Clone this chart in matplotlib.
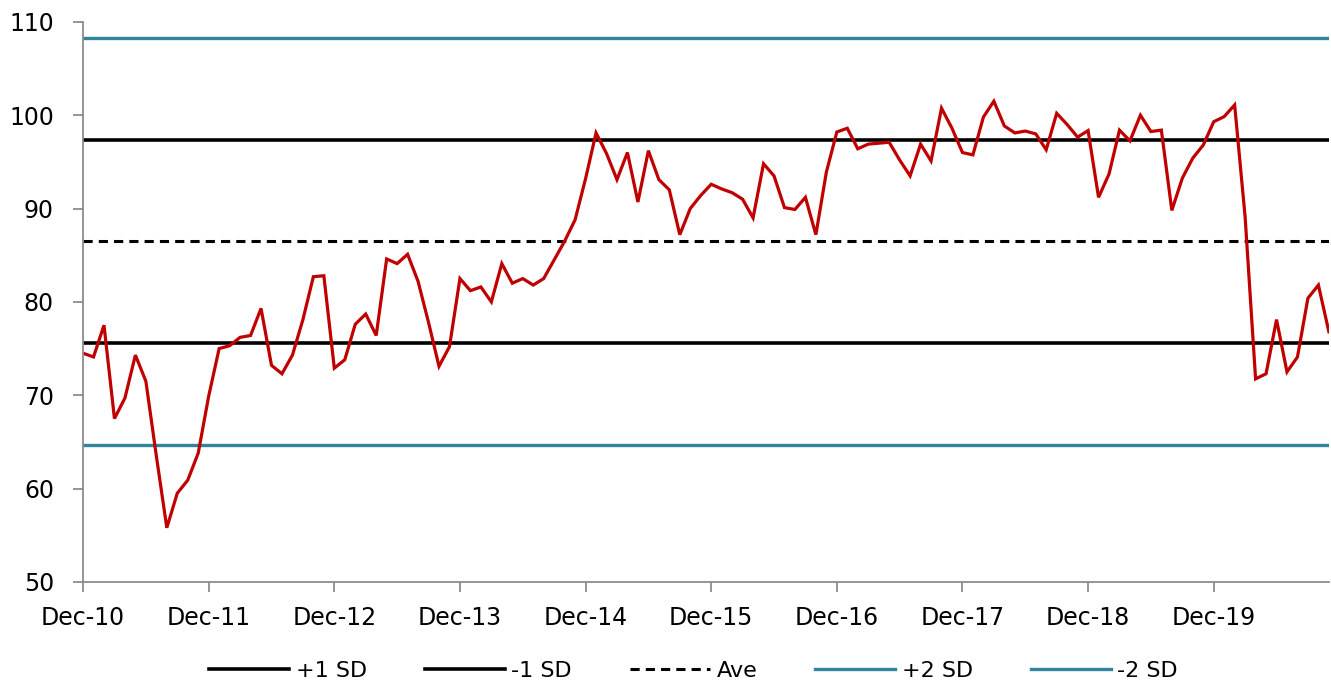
import numpy as np
import matplotlib
matplotlib.use("Agg")
import matplotlib.pyplot as plt

plt.rcParams["font.family"] = "DejaVu Sans"

# monthly series, Dec-10 .. Nov-20
values = [
    74.5,
    74.1, 77.5, 67.5, 69.7, 74.3, 71.5, 63.5, 55.8, 59.5, 60.9, 63.8, 69.9,
    75.0, 75.3, 76.2, 76.4, 79.3, 73.2, 72.3, 74.3, 78.1, 82.7, 82.8, 72.9,
    73.8, 77.6, 78.7, 76.4, 84.6, 84.1, 85.1, 82.2, 77.8, 73.1, 75.2, 82.5,
    81.2, 81.6, 80.0, 84.1, 82.0, 82.5, 81.8, 82.5, 84.5, 86.5, 88.8, 93.2,
    98.1, 95.9, 93.1, 96.0, 90.7, 96.2, 93.1, 92.0, 87.2, 90.0, 91.4, 92.6,
    92.1, 91.7, 91.0, 89.0, 94.8, 93.5, 90.1, 89.9, 91.2, 87.2, 93.9, 98.2,
    98.6, 96.4, 96.9, 97.0, 97.1, 95.2, 93.5, 96.9, 95.1, 100.75, 98.6, 96.0,
    95.75, 99.8, 101.5, 98.85, 98.1, 98.3, 98.0, 96.3, 100.2, 99.0, 97.65, 98.35,
    91.2, 93.7, 98.4, 97.25, 100.0, 98.25, 98.4, 89.8, 93.25, 95.4, 96.8, 99.3,
    99.85, 101.1, 89.1, 71.75, 72.3, 78.1, 72.5, 74.1, 80.4, 81.8, 76.8,
]
tick_labels = ["Dec-10", "Dec-11", "Dec-12", "Dec-13", "Dec-14",
               "Dec-15", "Dec-16", "Dec-17", "Dec-18", "Dec-19"]
plus1_sd = 97.35
minus1_sd = 75.6
average = 86.5
plus2_sd = 108.3
minus2_sd = 64.7

RED = "#C00000"
TEAL = "#31849B"
GRAY = "#8C8C8C"

x = np.arange(len(values))
fig = plt.figure(figsize=(13.31, 6.83), dpi=100)
ax = fig.add_axes([0.0624, 0.148, 0.936, 0.820])

ax.axhline(plus1_sd, color="black", lw=2.6, label="+1 SD")
ax.axhline(minus1_sd, color="black", lw=2.6, label="-1 SD")
ax.axhline(average, color="black", lw=2.2, ls=(0, (3, 2)), label="Ave")
ax.axhline(plus2_sd, color=TEAL, lw=2.4, label="+2 SD")
ax.axhline(minus2_sd, color=TEAL, lw=2.4, label="-2 SD")
ax.plot(x, values, color=RED, lw=2.3, solid_joinstyle="miter")

ax.set_xlim(0, len(values) - 1)
ax.set_ylim(50, 110)
ax.set_yticks(np.arange(50, 111, 10))
ax.set_xticks(np.arange(0, len(values), 12))
ax.set_xticklabels(tick_labels)

for s in ("top", "right"):
    ax.spines[s].set_visible(False)
for s in ("left", "bottom"):
    ax.spines[s].set_color(GRAY)
    ax.spines[s].set_linewidth(1.3)
ax.tick_params(axis="both", colors=GRAY, labelcolor="black", labelsize=17,
               width=1.3, length=7)
ax.tick_params(axis="x", pad=10)
ax.tick_params(axis="y", pad=14)

ax.legend(loc="upper center", bbox_to_anchor=(0.49, -0.105), ncol=5, frameon=False,
          fontsize=16, handlelength=3.6, handletextpad=0.3, columnspacing=2.6)

fig.savefig("out.png", dpi=100)
